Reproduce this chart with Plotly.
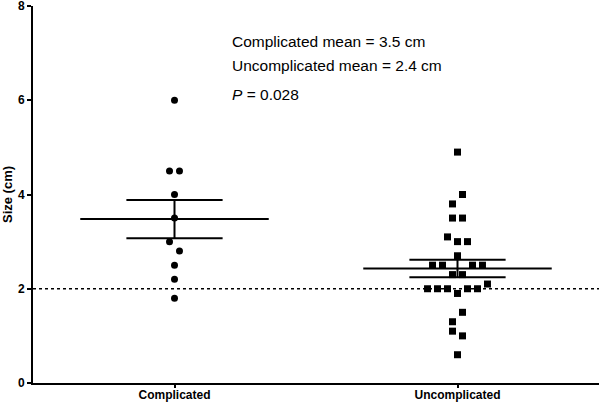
import numpy as np
import plotly.graph_objects as go

# ---- data ----
groups = ["Complicated", "Uncomplicated"]
comp_values = [6.0, 4.5, 4.5, 4.0, 3.5, 3.0, 2.8, 2.5, 2.2, 1.8]
comp_slot = [0, -0.5, 0.5, 0, 0, -0.5, 0.5, 0, 0, 0]
uncomp_values = [4.9, 4.0, 3.8, 3.5, 3.5, 3.1, 3.0, 3.0, 2.7,
                 2.5, 2.5, 2.5, 2.5, 2.3, 2.3, 2.1,
                 2.0, 2.0, 2.0, 2.0, 2.0, 1.9,
                 1.5, 1.3, 1.1, 1.0, 0.6]
uncomp_slot = [0, 0.5, -0.5, -0.5, 0.5, -1, 0, 1, 0,
               -2.5, -1.5, 1.5, 2.5, -0.5, 0.5, 3,
               -3, -2, -1, 1, 2, 0,
               0.5, -0.5, -0.5, 0.5, 0]
y_ticks = [0, 2, 4, 6, 8]
ref_line = 2.0
notes = ["Complicated mean = 3.5 cm", "Uncomplicated mean = 2.4 cm", "<i>P</i> = 0.028"]

STEP = 0.0353  # horizontal spacing of jittered markers, axis units
fig = go.Figure()

symbols = ["circle", "square"]
for i, (vals, slots) in enumerate([(comp_values, comp_slot), (uncomp_values, uncomp_slot)]):
    xc = i + 1
    fig.add_trace(go.Scatter(
        x=[xc + s * STEP for s in slots], y=vals, mode="markers",
        marker=dict(symbol=symbols[i], size=7, color="black", line=dict(width=0)),
        showlegend=False, hoverinfo="y", cliponaxis=False))
    arr = np.array(vals)
    m = arr.mean()
    sem = arr.std(ddof=1) / np.sqrt(len(arr))
    lw = 2
    fig.add_shape(type="line", x0=xc - 0.333, x1=xc + 0.333, y0=m, y1=m,
                  line=dict(color="black", width=lw))
    for yy in (m - sem, m + sem):
        fig.add_shape(type="line", x0=xc - 0.17, x1=xc + 0.17, y0=yy, y1=yy,
                      line=dict(color="black", width=lw))
    fig.add_shape(type="line", x0=xc, x1=xc, y0=m - sem, y1=m + sem,
                  line=dict(color="black", width=lw))

fig.add_shape(type="line", xref="paper", x0=0, x1=1, y0=ref_line, y1=ref_line,
              line=dict(color="black", width=1.5, dash="dot"))

note_y = [7.24, 6.73, 6.12]
for t, yy in zip(notes, note_y):
    fig.add_annotation(x=1.195, y=yy, text=t, showarrow=False, xanchor="left",
                       yanchor="middle", font=dict(size=15.5, color="black",
                                                    family="Liberation Sans, Arial"))

fig.update_layout(
    width=600, height=404,
    margin=dict(l=33, r=1, t=6, b=21, autoexpand=False),
    plot_bgcolor="white", paper_bgcolor="white",
    font=dict(family="Liberation Sans, Arial", color="black"),
)
fig.update_xaxes(range=[0.5, 2.5], tickvals=[1, 2], ticktext=[f"<b>{g}</b>" for g in groups],
                 showgrid=False, zeroline=False, showline=True, linecolor="black", linewidth=2,
                 ticks="outside", ticklen=3, tickwidth=1.5, tickcolor="black",
                 tickfont=dict(size=12, color="black"), automargin=False,
                 ticklabeloverflow="allow", ticklabelstandoff=-3)
fig.update_yaxes(range=[0, 8], tickvals=y_ticks, ticktext=[f"<b>{v}</b>" for v in y_ticks],
                 showgrid=False, zeroline=False, showline=True, linecolor="black", linewidth=2,
                 ticks="outside", ticklen=4, tickwidth=1.5, tickcolor="black",
                 tickfont=dict(size=12, color="black"), automargin=False,
                 ticklabeloverflow="allow",
                 title=dict(text="<b>Size (cm)</b>", font=dict(size=13, color="black"), standoff=4))

fig.write_html("out.html", config={"displayModeBar": False},
               post_script="document.body.style.margin='0';document.body.style.overflow='hidden';")
